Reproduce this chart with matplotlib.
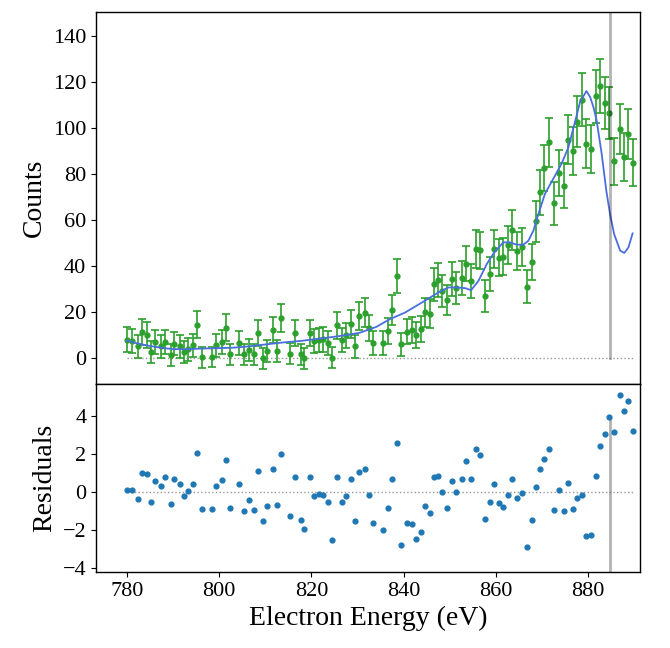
import numpy as np
import matplotlib
matplotlib.use("Agg")
import matplotlib.pyplot as plt

plt.rcParams['font.family'] = ['Liberation Serif', 'DejaVu Serif']
plt.rcParams['mathtext.fontset'] = 'stix'

energy = [780.0, 781.2, 782.4, 783.3, 784.3, 785.3, 786.0, 787.3, 788.3, 789.5,
          790.3, 791.5, 792.3, 793.3, 794.3, 795.2, 796.2, 798.5, 799.3, 800.5,
          801.4, 802.3, 804.3, 805.3, 806.4, 807.5, 808.5, 809.4, 810.4, 811.7,
          812.5, 813.4, 815.4, 816.5, 817.7, 818.4, 819.7, 820.6, 821.6, 822.5,
          823.5, 824.5, 825.5, 826.6, 827.5, 828.5, 829.5, 830.4, 831.5, 832.5,
          833.4, 835.5, 836.5, 837.5, 838.6, 839.5, 840.6, 841.7, 842.7, 843.7,
          844.6, 845.6, 846.5, 847.5, 848.3, 849.3, 850.4, 851.4, 852.6, 853.4,
          854.5, 855.6, 856.5, 857.6, 858.6, 859.5, 860.6, 861.6, 862.5, 863.4,
          864.5, 865.6, 866.7, 867.7, 868.7, 869.5, 870.4, 871.5, 872.6, 873.7,
          874.7, 875.5, 876.7, 877.6, 878.7, 879.6, 880.6, 881.6, 882.6, 883.6,
          884.5, 885.5, 886.8, 887.8, 888.7, 889.6]

counts = [8.0, 7.4, 5.1, 11.2, 10.0, 2.8, 7.1, 5.2, 7.1, 1.3,
          6.2, 5.2, 2.8, 3.8, 5.5, 14.4, 0.3, 0.4, 5.5, 7.1,
          13.2, 1.6, 6.7, 1.6, 3.5, 1.6, 10.9, -0.1, 3.1, 12.1,
          3.1, 17.4, 1.9, 10.9, 1.6, -0.1, 10.9, 7.4, 7.8, 8.1,
          6.7, 0.1, 14.2, 7.8, 9.9, 14.8, 5.2, 18.3, 19.6, 13.0,
          6.5, 6.5, 11.8, 20.9, 35.5, 6.0, 11.5, 12.3, 10.0, 12.6,
          19.8, 19.3, 32.1, 34.0, 29.2, 25.2, 34.3, 30.4, 34.8, 41.1,
          33.6, 47.5, 46.8, 26.9, 36.6, 47.5, 43.6, 44.0, 49.3, 55.7,
          46.7, 48.4, 31.0, 41.7, 59.4, 72.0, 82.6, 93.8, 67.3, 80.4,
          75.0, 94.9, 90.0, 102.8, 112.4, 93.2, 91.0, 113.8, 118.3, 110.9,
          106.5, 85.6, 99.6, 87.4, 97.3, 84.9]

errors = [5.3, 5.2, 5.0, 5.6, 5.5, 4.8, 5.2, 5.0, 5.2, 4.6,
          5.1, 5.0, 4.8, 4.9, 5.1, 5.9, 4.5, 4.5, 5.1, 5.2,
          5.8, 4.6, 5.2, 4.6, 4.8, 4.6, 5.6, 4.5, 4.8, 5.7,
          4.8, 6.1, 4.7, 5.6, 4.6, 4.5, 5.6, 5.2, 5.3, 5.3,
          5.2, 4.5, 5.8, 5.3, 5.5, 5.9, 5.0, 6.2, 6.3, 5.7,
          5.1, 5.1, 5.6, 6.4, 7.4, 5.1, 5.6, 5.7, 5.5, 5.7,
          6.3, 6.3, 7.2, 7.3, 7.0, 6.7, 7.4, 7.1, 7.4, 7.8,
          7.3, 8.2, 8.2, 6.9, 7.5, 8.2, 8.0, 8.0, 8.3, 8.7,
          8.2, 8.3, 7.1, 7.8, 8.9, 9.6, 10.1, 10.6, 9.3, 10.0,
          9.7, 10.7, 10.5, 11.0, 11.5, 10.6, 10.5, 11.6, 11.7, 11.4,
          11.2, 10.3, 10.9, 10.4, 10.8, 10.2]

residuals = [0.09, 0.09, -0.36, 1.00, 0.91, -0.55, 0.57, 0.29, 0.76, -0.66,
             0.66, 0.43, -0.23, 0.05, 0.41, 2.02, -0.89, -0.93, 0.28, 0.62,
             1.65, -0.86, 0.39, -1.00, -0.43, -0.96, 1.08, -1.52, -0.75, 1.22,
             -0.72, 1.99, -1.26, 0.76, -1.49, -1.96, 0.77, -0.25, -0.14, -0.16,
             -0.55, -2.54, 0.77, -0.55, -0.25, 0.66, -1.54, 1.06, 1.20, -0.16,
             -1.63, -2.04, -0.88, 0.66, 2.58, -2.82, -1.67, -1.72, -2.47, -2.12,
             -0.78, -1.14, 0.79, 0.82, 0.00, -0.87, 0.57, -0.04, 0.68, 1.60,
             0.66, 2.23, 1.91, -1.46, -0.52, 0.43, -0.60, -0.82, -0.18, 0.66,
             -0.34, -0.09, -2.92, -1.51, 0.25, 1.19, 1.73, 2.26, -0.95, 0.07,
             -1.03, 0.46, -0.89, -0.31, -0.16, -2.31, -2.26, 0.82, 2.41, 3.02,
             3.94, 3.16, 5.10, 4.26, 4.80, 3.17]

fit_x = [780.0, 782.0, 784.0, 786.0, 788.0, 790.0, 793.0, 796.0, 800.0, 803.0,
         806.0, 810.0, 814.0, 817.5, 820.4, 824.0, 827.0, 830.5, 834.0, 837.0,
         840.3, 843.9, 847.5, 849.7, 851.5, 853.3, 854.6, 856.2, 858.0, 859.8,
         861.6, 863.0, 864.5, 865.9, 867.0, 868.1, 869.2, 870.6, 872.8, 874.2,
         875.7, 877.1, 878.2, 879.6, 880.4, 881.1, 881.8, 882.9, 883.9, 884.7,
         885.6, 886.9, 887.8, 888.7, 889.6]
fit_y = [7.6, 6.5, 5.6, 4.9, 4.3, 3.9, 3.8, 4.1, 4.3, 4.5,
         5.0, 5.9, 6.8, 7.4, 8.1, 9.0, 9.8, 11.0, 13.5, 16.9,
         19.8, 24.1, 28.5, 30.7, 30.7, 30.4, 29.5, 33.6, 40.9, 46.5,
         50.3, 50.3, 49.3, 49.3, 51.0, 55.4, 62.7, 71.4, 79.4, 84.5,
         91.7, 102.6, 111.3, 116.1, 113.5, 109.2, 103.4, 88.8, 72.8, 62.7,
         53.9, 46.7, 45.7, 48.1, 54.2]

edge_energy = 884.6
edge_index = 100

fig = plt.figure(figsize=(6.7, 6.48), dpi=100)
ax1 = fig.add_axes([0.1433, 0.4074, 0.8119, 0.5741])
ax2 = fig.add_axes([0.1433, 0.1173, 0.8119, 0.2901], sharex=ax1)

ax1.errorbar(energy, counts, yerr=errors, fmt='o', color='#2ca02c',
             ms=3.5, capsize=3, elinewidth=1.2, capthick=1.2, zorder=3)
ax1.plot(fit_x, fit_y, color='#4a6ee0', lw=1.3, zorder=4)
ax1.plot([energy[0], energy[-1]], [0, 0], ls=':', color='#999999', lw=1.0, zorder=1)
ax1.set_ylim(-11.3, 150.5)
ax1.plot([edge_energy, edge_energy], [0, 150.5], color='k', alpha=0.3, lw=2, zorder=5)
ax1.set_ylabel('Counts', fontsize=20)
ax1.set_yticks([0, 20, 40, 60, 80, 100, 120, 140])
plt.setp(ax1.get_xticklabels(), visible=False)

ax2.plot([energy[0], energy[-1]], [0, 0], ls=':', color='#999999', lw=1.0, zorder=1)
ax2.scatter(energy, residuals, s=12, color='#1f77b4', zorder=3)
ax2.set_ylim(-4.23, 5.67)
ax2.plot([edge_energy, edge_energy], [-4.23, residuals[edge_index]], color='k', alpha=0.3, lw=2, zorder=2)
ax2.set_ylabel('Residuals', fontsize=20)
ax2.set_xlabel('Electron Energy (eV)', fontsize=20)
ax2.set_yticks([-4, -2, 0, 2, 4])
ax2.set_xticks([780, 800, 820, 840, 860, 880])
ax2.set_xlim(773.3, 891.2)

for ax in (ax1, ax2):
    ax.tick_params(labelsize=16)
    for s in ax.spines.values():
        s.set_linewidth(1.0)

fig.savefig('out.png', dpi=100)
